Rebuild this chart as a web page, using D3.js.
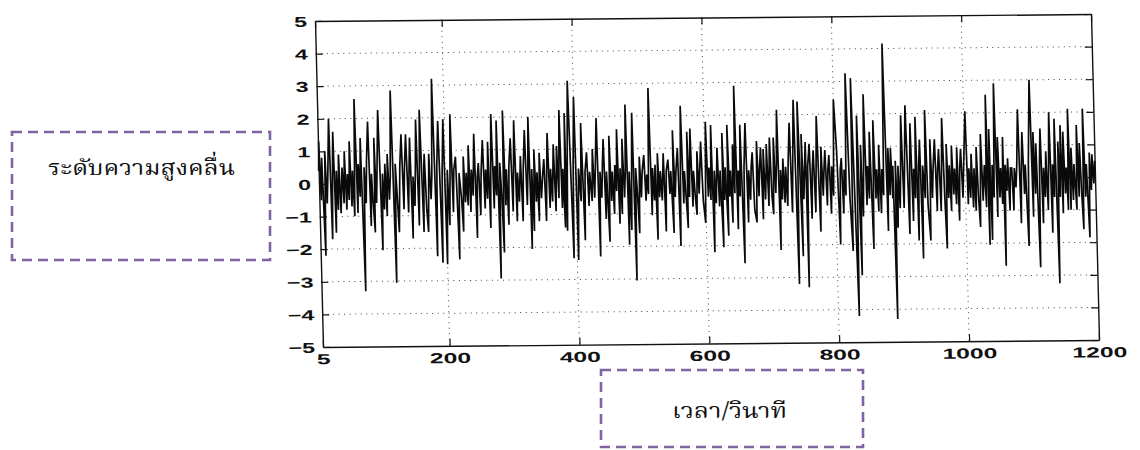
<!DOCTYPE html>
<html>
<head>
<meta charset="utf-8">
<script src="https://cdn.jsdelivr.net/npm/d3@7"></script>
<style>
  body { margin: 0; background: #fff; }
  .tick text { font-family: "Liberation Sans", Arial, sans-serif; font-weight: bold; font-size: 14.5px; fill: #111; }
  .thai { font-family: "Kinnari", "Norasi", "Noto Serif Thai", "TH Sarabun New", "Noto Sans Thai", "Loma", "Garuda", "Tlwg Typo", serif; font-size: 22px; fill: #111; }
</style>
</head>
<body>
<svg id="chart" width="1140" height="450"></svg>
<script>
// wave height record, [time, height] turning points
const signal = [
  [5,0.4],[6,1.3],[8,-0.5],[10,0.8],[13,-2.2],[15,1.0],[17,-0.6],[19,0.3],[22,2.0],[24,-1.7],[26,0.2],[28,1.6],[30,-1.5],[32,0.4],[34,-0.8],[36,0.9],[38,-0.9],[41,0.5],[43,-0.6],[45,1.0],[47,-0.8],[49,0.3],[51,-0.5],[53,1.3],[55,-0.7],[57,0.4],[59,-1.0],[62,2.6],[64,-0.9],[66,0.6],[68,-0.4],[70,1.4],[73,-3.3],[75,0.5],[77,-0.6],[79,0.7],[82,1.9],[84,-1.3],[86,0.3],[88,-0.7],[90,-1.5],[91,1.4],[93,-0.6],[95,0.5],[98,2.25],
  [101,-2.05],[103,0.3],[105,-0.8],[107,0.6],[109,-1.0],[111,0.9],[113,-0.5],[115,0.2],[118,2.85],[121,-3.05],[123,0.6],[125,-0.4],[127,-1.5],[130,0.5],[133,1.5],[135,-0.8],[137,0.4],[140,1.5],[142,-0.9],[144,0.3],[146,1.4],[148,-1.7],[150,0.2],[152,-0.7],[154,0.5],[156,1.95],[158,-1.3],[160,0.3],[162,2.25],[165,-1.5],[167,0.5],[168,0.9],[170,-0.8],[172,-1.5],[175,0.9],[177,-0.5],[179,0.2],[182,3.2],[185,-2.25],[187,0.5],[190,1.9],[193,-2.45],[195,0.3],[198,1.95],[200,-2.5],
  [203,0.4],[205,-1.3],[207,0.2],[209,2.1],[211,-0.9],[213,0.4],[216,0.8],[219,-2.35],[221,0.3],[224,-0.5],[226,-1.5],[228,0.8],[230,-0.6],[232,0.3],[234,-0.7],[236,1.15],[238,-0.9],[240,0.4],[242,-0.4],[245,1.5],[247,-1.7],[249,0.2],[251,0.6],[253,-1.0],[255,0.3],[258,1.3],[260,-0.8],[262,0.4],[264,-0.5],[266,1.25],[268,-1.4],[270,0.5],[272,2.1],[274,-0.8],[276,0.5],[278,-0.4],[280,1.9],[282,-2.95],[284,0.6],[286,-0.4],[288,-2.15],[290,2.2],[292,-0.7],[294,0.4],[296,-1.3],[298,0.5],
  [301,1.35],[303,-0.9],[305,0.4],[307,1.9],[309,-1.2],[311,0.3],[313,-0.6],[316,0.8],[318,-1.2],[320,0.4],[323,1.6],[325,-0.7],[327,0.3],[329,2.0],[331,-2.05],[333,0.4],[335,-1.5],[337,1.0],[339,-0.6],[341,0.3],[343,-1.2],[345,0.9],[347,-0.5],[350,0.3],[352,0.7],[354,-1.2],[356,0.3],[358,1.5],[360,-0.8],[362,0.4],[364,-0.6],[367,1.15],[369,-0.9],[372,1.1],[374,-0.5],[377,2.2],[379,-0.8],[381,0.4],[383,-1.4],[385,2.1],[386,-1.5],[388,0.6],[391,3.1],[395,-2.35],[397,0.5],[400,2.6],
  [402,-2.4],[405,0.4],[408,-0.6],[410,1.8],[413,-1.8],[415,0.3],[418,0.9],[420,-0.75],[422,0.3],[425,-0.6],[427,1.0],[429,-0.5],[431,0.4],[434,1.95],[436,-2.3],[438,0.3],[440,-0.5],[442,0.5],[444,1.3],[446,-1.15],[448,0.3],[451,-1.85],[453,1.4],[455,-0.6],[457,0.3],[459,-1.0],[461,0.5],[463,-0.3],[465,1.6],[467,-1.3],[469,0.4],[471,-1.0],[473,1.3],[475,-0.5],[477,0.3],[479,2.35],[481,-1.95],[483,0.3],[485,-1.5],[487,0.5],[489,2.1],[491,-3.05],[493,0.4],[495,-0.4],[497,-1.6],[499,0.75],
  [501,-0.5],[503,0.3],[506,0.8],[508,-0.6],[510,0.2],[512,-0.4],[515,2.85],[517,-1.05],[519,0.4],[521,-0.6],[523,0.5],[525,-1.8],[527,0.85],[529,-0.5],[531,0.3],[533,-0.6],[536,0.85],[538,-1.55],[540,0.3],[543,0.65],[545,-0.4],[547,0.3],[550,-1.6],[551,1.55],[553,-0.5],[555,0.3],[558,1.0],[560,-2.0],[562,0.4],[564,2.3],[566,-0.7],[568,0.3],[570,-0.6],[572,-1.45],[573,1.5],[575,-0.5],[578,1.6],[580,-0.8],[582,0.3],[584,-0.5],[586,-1.05],[588,0.9],[590,-0.4],[592,0.4],[594,1.2],[596,-0.6],[599,-1.3],
  [602,1.8],[604,-0.5],[606,0.4],[608,-0.6],[610,1.7],[612,-2.2],[614,0.3],[616,-0.7],[619,1.0],[621,-0.8],[623,0.3],[626,-2.05],[627,1.45],[629,-0.6],[631,0.4],[634,-1.7],[635,1.7],[637,-0.5],[639,0.3],[641,-1.3],[643,1.1],[645,-0.4],[647,2.9],[649,-1.5],[651,0.3],[653,-0.5],[655,1.7],[658,-2.55],[660,0.4],[663,1.75],[665,-1.3],[667,0.3],[669,-0.6],[671,0.4],[673,0.85],[675,-0.9],[678,-1.3],[680,1.2],[682,-0.5],[684,0.4],[686,1.0],[688,-1.2],[690,0.95],[692,-0.6],[694,0.3],[695,1.1],[697,-0.8],[700,1.3],
  [702,-0.5],[704,-1.05],[706,1.3],[708,-0.4],[710,0.5],[712,2.15],[714,-2.15],[716,0.3],[718,-0.6],[720,0.65],[722,-0.7],[724,0.4],[726,-0.8],[728,0.5],[731,1.75],[733,-1.0],[735,0.4],[738,2.45],[741,-3.2],[743,0.5],[744,2.4],[748,-2.35],[749,1.4],[751,-0.6],[753,0.3],[755,1.15],[756,-3.3],[758,0.4],[761,1.1],[763,-1.2],[765,0.3],[767,0.9],[769,-1.0],[771,0.4],[773,1.95],[776,-1.6],[779,1.0],[781,-0.5],[783,0.3],[785,0.9],[787,-0.8],[789,0.3],[791,0.75],[793,-1.05],[795,0.4],[797,-0.5],[800,2.45],
  [803,0.95],[806,-2.0],[808,0.3],[810,0.65],[812,-1.05],[814,0.3],[816,-0.5],[819,3.25],[822,-0.6],[825,-2.2],[827,3.1],[832,-4.2],[834,0.5],[835,1.95],[838,-2.95],[840,1.05],[842,-1.15],[844,0.3],[846,2.6],[848,-0.8],[850,0.4],[852,-0.6],[854,1.45],[857,-2.15],[860,1.8],[862,-0.6],[864,0.3],[866,-1.0],[868,1.05],[870,-1.05],[872,0.3],[874,-0.5],[877,4.15],[880,-1.6],[882,0.95],[884,-0.5],[886,0.95],[888,-0.6],[889,0.4],[891,-4.3],[893,0.55],[895,-1.5],[897,0.4],[899,-0.9],
  [901,0.3],[903,1.95],[905,-0.9],[907,0.3],[910,2.25],[913,-1.7],[915,0.3],[917,1.7],[919,-1.3],[921,0.3],[923,-0.6],[925,1.9],[927,-1.9],[929,0.4],[931,1.2],[933,-2.45],[935,0.4],[938,-0.6],[940,2.1],[942,-0.8],[945,-1.9],[947,1.2],[949,-0.6],[951,0.3],[954,1.2],[956,-1.0],[958,0.3],[960,0.9],[962,-1.0],[964,0.3],[966,1.85],[968,-0.6],[970,-2.15],[972,1.05],[974,-0.6],[976,0.4],[978,-1.0],[980,1.0],[982,-0.5],[984,0.3],[986,-0.8],[988,0.95],[990,-1.3],[992,0.3],[994,0.9],[996,-0.6],[998,0.3],
  [1002,2.05],[1004,-0.8],[1006,0.3],[1008,-0.6],[1010,0.75],[1012,-0.9],[1014,0.3],[1016,-1.0],[1018,0.95],[1020,-0.6],[1022,-1.5],[1025,1.35],[1027,-0.7],[1030,0.4],[1032,-0.9],[1034,2.55],[1036,-2.05],[1038,1.5],[1040,-1.9],[1042,0.4],[1044,-0.6],[1047,2.9],[1049,-1.2],[1051,1.25],[1053,-0.6],[1055,0.3],[1057,-0.8],[1059,1.25],[1060,-2.7],[1062,0.4],[1064,-0.4],[1066,0.6],[1068,-1.0],[1070,0.3],[1072,0.3],[1074,-1.0],[1076,0.3],[1078,-0.3],[1080,0.4],[1083,2.1],[1085,-1.4],[1087,0.3],[1089,1.4],[1091,-0.5],[1093,0.4],[1096,-2.1],[1098,0.5],
  [1102,3.0],[1104,-1.2],[1106,1.4],[1108,-0.5],[1110,1.05],[1113,-2.75],[1115,0.4],[1117,1.5],[1119,-1.4],[1121,0.3],[1123,-0.6],[1125,0.8],[1127,-1.0],[1129,0.4],[1131,2.0],[1133,-1.7],[1135,0.4],[1137,-0.6],[1139,1.8],[1142,-3.25],[1144,1.1],[1146,-0.6],[1148,1.6],[1150,-1.1],[1152,1.4],[1154,-0.5],[1156,0.3],[1158,-1.0],[1160,2.1],[1162,-1.0],[1164,0.9],[1166,-0.7],[1168,0.4],[1171,-1.0],[1173,1.6],[1175,-0.6],[1177,1.05],[1179,-0.5],[1181,-1.6],[1183,2.1],[1185,-0.6],[1187,0.4],[1190,-1.85],[1192,0.75],[1194,-0.4],[1196,0.7],[1198,-0.2],[1200,0.5]
]

const xTicks = [5, 200, 400, 600, 800, 1000, 1200]
const yTicks = [-5, -4, -3, -2, -1, 0, 1, 2, 3, 4, 5]
const xGrid = [200, 400, 600, 800, 1000]
const yGrid = [-4, -3, -2, -1, 1, 2, 3, 4]
const yTitle = "ระดับความสูงคลื่น"
const xTitle = "เวลา/วินาที"

const W = 776, H = 326
const svg = d3.select("#chart")

// the scanned page is slightly skewed, so the whole plot sits in a sheared frame
const plot = svg.append("g")
    .attr("transform", "matrix(1,-0.00902,0.02454,1,315,21)")

const x = d3.scaleLinear().domain([5, 1200]).range([0, W])
const y = d3.scaleLinear().domain([-5, 5]).range([H, 0])

// dotted grid
plot.append("g").selectAll("line").data(xGrid).join("line")
    .attr("x1", d => x(d)).attr("x2", d => x(d))
    .attr("y1", 0).attr("y2", H)
    .attr("stroke", "#444").attr("stroke-width", 1).attr("stroke-dasharray", "1,4.5")
plot.append("g").selectAll("line").data(yGrid).join("line")
    .attr("x1", 0).attr("x2", W)
    .attr("y1", d => y(d)).attr("y2", d => y(d))
    .attr("stroke", "#444").attr("stroke-width", 1).attr("stroke-dasharray", "1,4.5")

// the wave
const line = d3.line().x(d => x(d[0])).y(d => y(d[1]))
plot.append("path")
    .datum(signal)
    .attr("d", line)
    .attr("fill", "none")
    .attr("stroke", "#0a0a0a")
    .attr("stroke-width", 1.7)
    .attr("stroke-linejoin", "miter")

const fmt = d => d < 0 ? "\u2212" + Math.abs(d) : "" + d

// axes, ticks pointing inwards
const left = plot.append("g")
    .call(d3.axisLeft(y).tickValues(yTicks).tickSizeInner(-7).tickSizeOuter(0).tickPadding(0).tickFormat(fmt))
left.selectAll("text").attr("transform", "scale(1.6,1)").attr("x", -5).attr("dy", "0.36em")

const bottom = plot.append("g")
    .attr("transform", `translate(0,${H})`)
    .call(d3.axisBottom(x).tickValues(xTicks).tickSizeInner(-7).tickSizeOuter(0).tickPadding(7).tickFormat(d => d))
bottom.selectAll("text").attr("transform", "scale(1.7,1)").attr("x", 0)

plot.append("g")
    .attr("transform", `translate(${W},0)`)
    .call(d3.axisRight(y).tickValues(yTicks).tickSizeInner(-7).tickSizeOuter(0).tickFormat(""))
plot.append("g")
    .call(d3.axisTop(x).tickValues(xTicks).tickSizeInner(-7).tickSizeOuter(0).tickFormat(""))

plot.selectAll(".domain").attr("stroke", "#111").attr("stroke-width", 1.4)
plot.selectAll(".tick line").attr("stroke", "#111").attr("stroke-width", 1.2)

// dashed label boxes
const boxColor = "#8064a2"
svg.append("rect")
    .attr("x", 12).attr("y", 132).attr("width", 258).attr("height", 128)
    .attr("fill", "#fff").attr("stroke", boxColor).attr("stroke-width", 2.6).attr("stroke-dasharray", "10,6")
svg.append("text").attr("class", "thai")
    .attr("x", 48).attr("y", 175)
    .attr("textLength", 187).attr("lengthAdjust", "spacingAndGlyphs")
    .text(yTitle)

svg.append("rect")
    .attr("x", 601).attr("y", 370).attr("width", 262).attr("height", 77)
    .attr("fill", "#fff").attr("stroke", boxColor).attr("stroke-width", 2.6).attr("stroke-dasharray", "10,6")
svg.append("text").attr("class", "thai")
    .attr("x", 672).attr("y", 418)
    .attr("textLength", 115).attr("lengthAdjust", "spacingAndGlyphs")
    .text(xTitle)
</script>
</body>
</html>
